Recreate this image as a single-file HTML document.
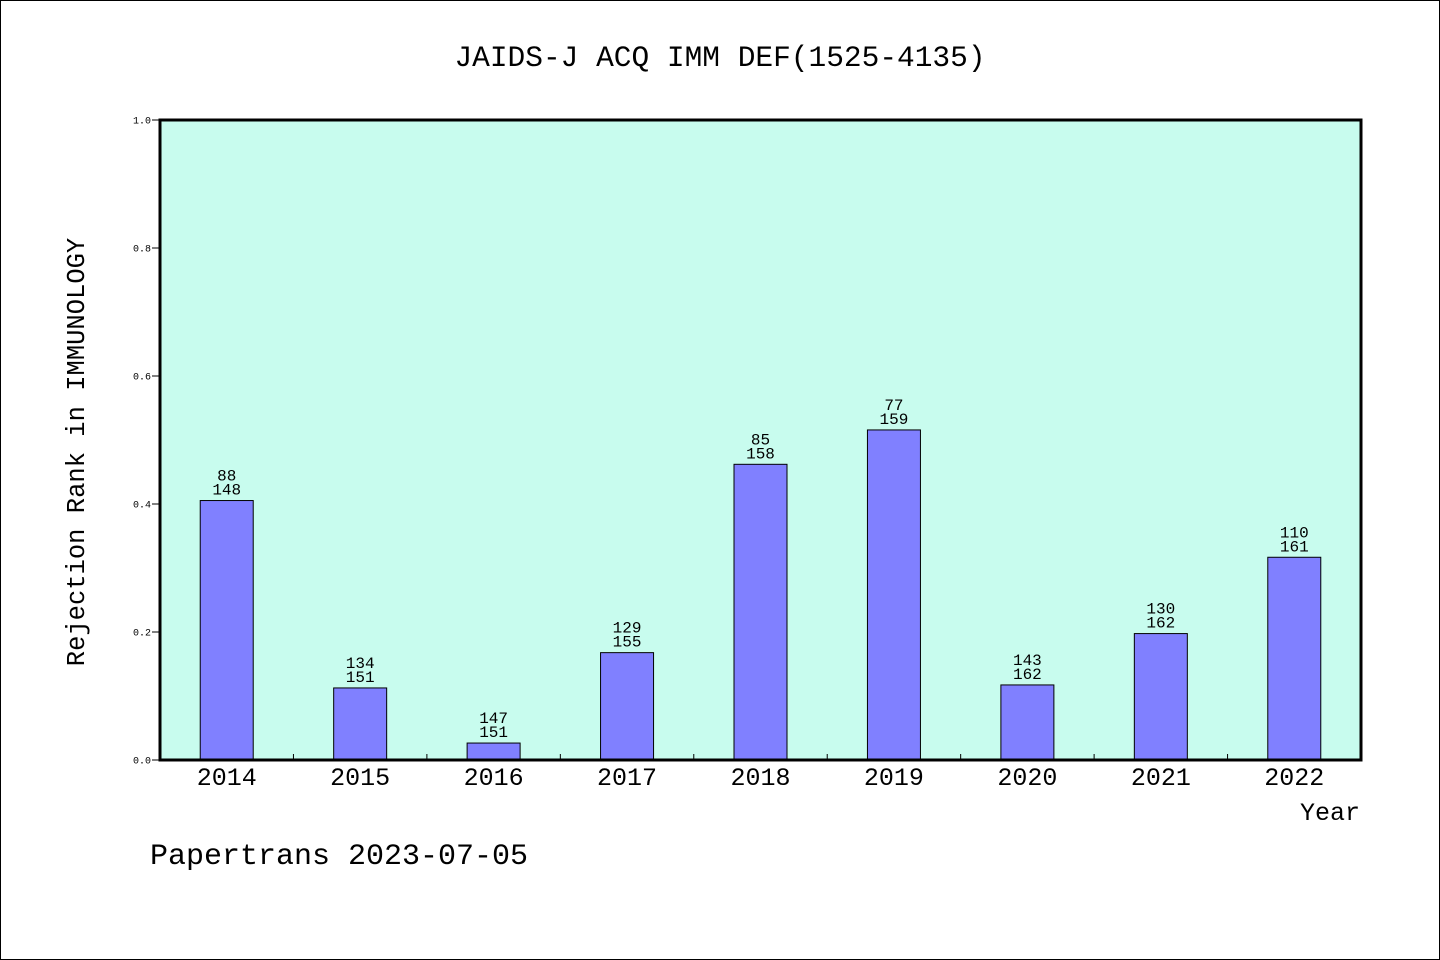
<!DOCTYPE html>
<html><head><meta charset="utf-8"><style>
html,body{margin:0;padding:0;background:#fff}
svg{display:block}
text{font-family:"Liberation Mono","DejaVu Sans Mono",monospace;fill:#000}
</style></head><body>
<svg id="chart" width="1440" height="960" viewBox="0 0 1440 960" xmlns="http://www.w3.org/2000/svg">
<rect x="0.5" y="0.5" width="1439" height="959" fill="#fff" stroke="#000"/>
<text x="720" y="66" font-size="29.5" text-anchor="middle">JAIDS-J ACQ IMM DEF(1525-4135)</text>
<rect x="160" y="120" width="1201" height="640" fill="#c8fcee"/>
<g id="yaxis"></g>
<g id="xaxis"></g>
<g id="bars"></g>
<rect x="160" y="120" width="1201" height="640" fill="none" stroke="#000" stroke-width="3"/>
<text transform="translate(84,452) rotate(-90)" font-size="25.5" text-anchor="middle">Rejection Rank in IMMUNOLOGY</text>
<text x="1360" y="820" font-size="25" text-anchor="end">Year</text>
<text x="150" y="864" font-size="30">Papertrans 2023-07-05</text>
</svg>
<script>
const years = ["2014","2015","2016","2017","2018","2019","2020","2021","2022"];
const ranks = [88,134,147,129,85,77,143,130,110];
const totals = [148,151,151,155,158,159,162,162,161];
const yTicks = ["0.0","0.2","0.4","0.6","0.8","1.0"];
const NS="http://www.w3.org/2000/svg";
const X0=160,X1=1361,Y0=760,Y1=120;
const band=(X1-X0)/years.length;
const xc=i=>X0+band*(i+0.5);
const y=v=>Y0-(Y1-Y0)*-v;
function mk(t,a,p){const e=document.createElementNS(NS,t);for(const k in a)e.setAttribute(k,a[k]);p.appendChild(e);return e;}
const ya=document.getElementById('yaxis'),xa=document.getElementById('xaxis'),bg=document.getElementById('bars');
yTicks.forEach(t=>{
  const v=parseFloat(t);
  const l=mk('line',{x1:152,x2:160,y1:y(v),y2:y(v),stroke:'#000'},ya);
  
  
  const tx=mk('text',{x:151,y:y(v)+3.5,'font-size':10,'text-anchor':'end'},ya);
  tx.textContent=t;
  
  
});
years.forEach((yr,i)=>{
  if(i>0){const l=mk('line',{x1:X0+band*i,x2:X0+band*i,y1:Y0,y2:Y0-6,stroke:'#000'},xa);
    
    }
  const tx=mk('text',{x:xc(i),y:785,'font-size':25,'text-anchor':'middle'},xa);
  tx.textContent=yr;
  
  
  const v=(totals[i]-ranks[i])/totals[i];
  const r=mk('rect',{x:xc(i)-26.5,y:y(v),width:53,height:Y0-y(v),fill:'#8080ff',stroke:'#000','stroke-width':1},bg);
  
  
  const t1=mk('text',{x:xc(i),y:y(v)-20,'font-size':16,'text-anchor':'middle'},bg);
  t1.textContent=ranks[i];
  
  
  const t2=mk('text',{x:xc(i),y:y(v)-6,'font-size':16,'text-anchor':'middle'},bg);
  t2.textContent=totals[i];
  
  
});
</script>
</body></html>
